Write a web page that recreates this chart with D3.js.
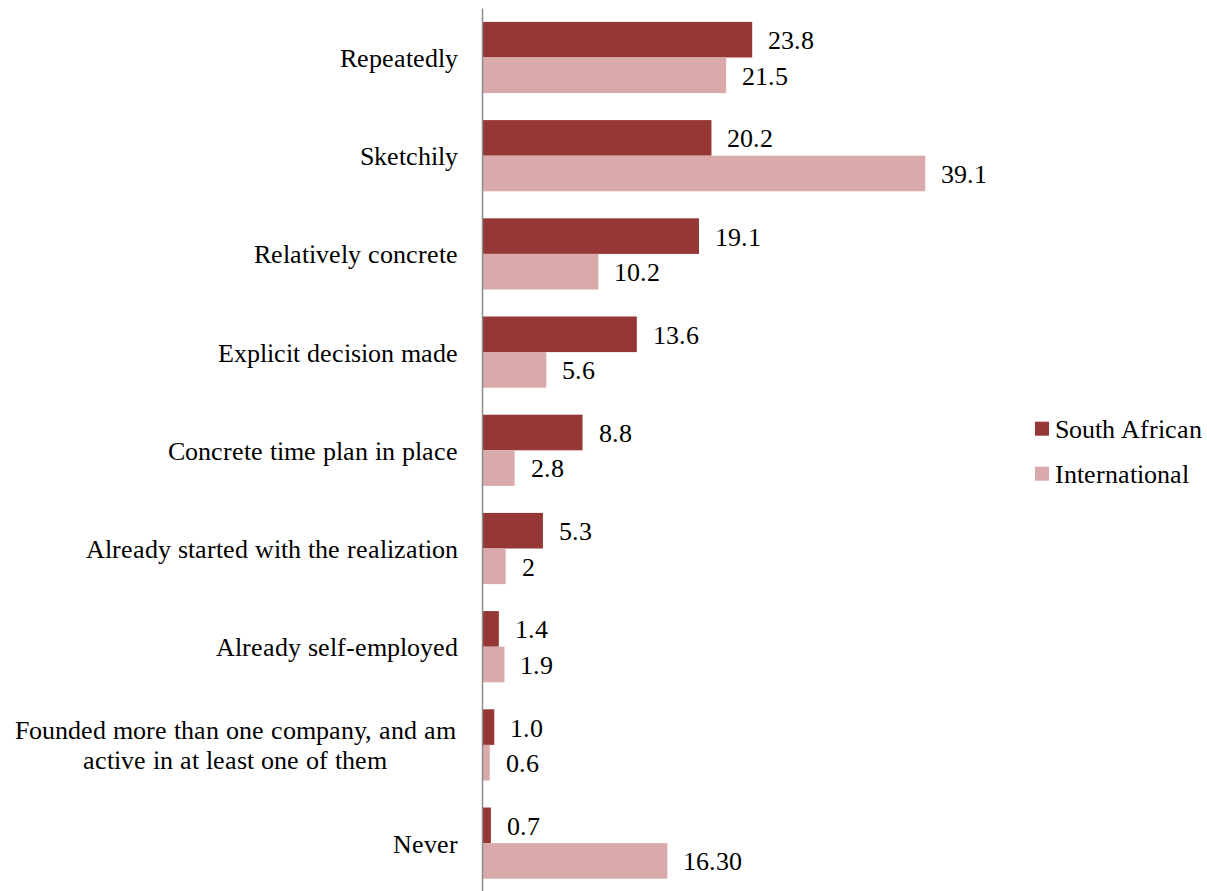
<!DOCTYPE html>
<html>
<head>
<meta charset="utf-8">
<script src="https://cdn.jsdelivr.net/npm/d3@7"></script>
<style>
  @font-face {
    font-family: "ChartSerif";
    src: local("Liberation Serif"), local("LiberationSerif"), local("LiberationSerif-Regular"), local("Times New Roman"), local("Tinos");
  }
</style>
</head>
<body style="margin:0">
<svg id="chart" width="1207" height="891" style="display:block"></svg>
<script>
// Categories, top to bottom; "\n" marks a wrapped line
const categories = [
  "Repeatedly",
  "Sketchily",
  "Relatively concrete",
  "Explicit decision made",
  "Concrete time plan in place",
  "Already started with the realization",
  "Already self-employed",
  "Founded more than one company, and am\nactive in at least one of them",
  "Never"
];

const seriesNames = ["South African", "International"];

const southAfrican = [23.8, 20.2, 19.1, 13.6, 8.8, 5.3, 1.4, 1.0, 0.7];
const international = [21.5, 39.1, 10.2, 5.6, 2.8, 2, 1.9, 0.6, 16.30];

// Data labels as printed beside each bar
const southAfricanLabels = ["23.8", "20.2", "19.1", "13.6", "8.8", "5.3", "1.4", "1.0", "0.7"];
const internationalLabels = ["21.5", "39.1", "10.2", "5.6", "2.8", "2", "1.9", "0.6", "16.30"];

const colors = ["#953735", "#DAAAAA"];

const serifStack = "ChartSerif, 'Liberation Serif', serif";
const labelSize = 26;

const svg = d3.select("#chart");

const xScale = d3.scaleLinear().domain([0, 40]).range([483, 483 + 40 * 11.31]);

const yScale = d3.scaleBand()
  .domain(categories)
  .range([8.4, 892.2])
  .paddingInner(0.275)
  .paddingOuter(0.1375);

const sub = d3.scaleBand()
  .domain(seriesNames)
  .range([0, yScale.bandwidth()]);

const seriesList = [
  { name: seriesNames[0], values: southAfrican, labels: southAfricanLabels, color: colors[0] },
  { name: seriesNames[1], values: international, labels: internationalLabels, color: colors[1] }
];

function styleText(sel) {
  return sel
    .attr("font-family", serifStack)
    .attr("font-size", labelSize)
    .attr("fill", "#000");
}

// Bars
seriesList.forEach(s => {
  svg.append("g").selectAll("rect")
    .data(categories)
    .join("rect")
    .attr("x", xScale(0))
    .attr("y", (c) => yScale(c) + sub(s.name))
    .attr("width", (c, i) => xScale(s.values[i]) - xScale(0))
    .attr("height", sub.bandwidth())
    .attr("fill", s.color);
});

// Vertical category axis
svg.append("line")
  .attr("x1", xScale(0) - 0.5).attr("x2", xScale(0) - 0.5)
  .attr("y1", 8.4).attr("y2", 891)
  .attr("stroke", "#8c8c8c")
  .attr("stroke-width", 1.5);

// Value labels
seriesList.forEach(s => {
  categories.forEach((c, i) => {
    svg.append("text")
      .call(styleText)
      .attr("x", xScale(s.values[i]) + 16)
      .attr("y", yScale(c) + sub(s.name) + sub.bandwidth() / 2 + 9.4)
      .text(s.labels[i]);
  });
});

// Category labels, right-aligned; the wrapped label is centred in the label column
const labelRight = 458;
const wrapWidth = 446;
const lineGap = 30;
categories.forEach(c => {
  const lines = c.split("\n");
  const cy = yScale(c) + yScale.bandwidth() / 2;
  const multi = lines.length > 1;
  lines.forEach((ln, k) => {
    svg.append("text")
      .call(styleText)
      .attr("text-anchor", multi ? "middle" : "end")
      .attr("x", multi ? labelRight - wrapWidth / 2 : labelRight)
      .attr("y", cy + (k - (lines.length - 1) / 2) * lineGap + 9.4)
      .text(ln);
  });
});

// Legend
seriesNames.forEach((name, i) => {
  const ly = 428.7 + i * 45;
  svg.append("rect")
    .attr("x", 1035).attr("y", ly - 7)
    .attr("width", 14).attr("height", 14)
    .attr("fill", colors[i]);
  svg.append("text")
    .call(styleText)
    .attr("x", 1055).attr("y", ly + 9.4)
    .text(name);
});
</script>
</body>
</html>
